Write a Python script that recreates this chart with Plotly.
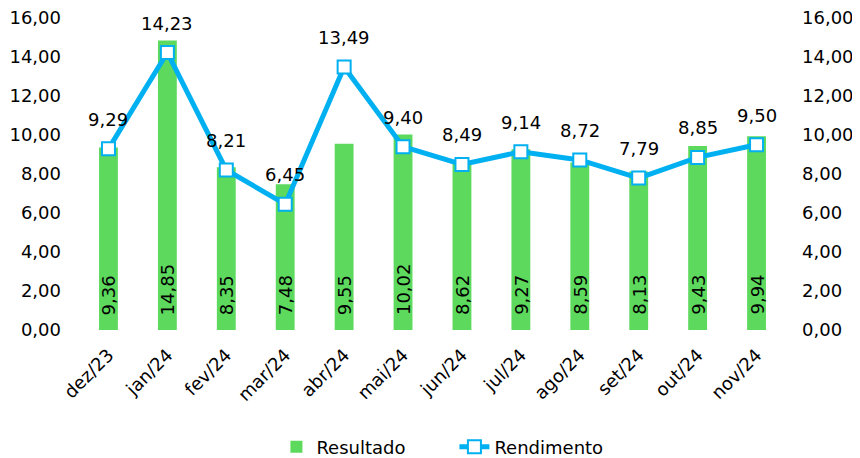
import plotly.graph_objects as go

categories = ["dez/23", "jan/24", "fev/24", "mar/24", "abr/24", "mai/24",
              "jun/24", "jul/24", "ago/24", "set/24", "out/24", "nov/24"]
resultado = [9.36, 14.85, 8.35, 7.48, 9.55, 10.02, 8.62, 9.27, 8.59, 8.13, 9.43, 9.94]
rendimento = [9.29, 14.23, 8.21, 6.45, 13.49, 9.40, 8.49, 9.14, 8.72, 7.79, 8.85, 9.50]
y_ticks = [0, 2, 4, 6, 8, 10, 12, 14, 16]

def br(v):
    return f"{v:.2f}".replace(".", ",")

FONT = "DejaVu Sans, Liberation Sans, Arial, sans-serif"
FS = 18
GREEN = "#5DD95D"
BLUE = "#00B0F0"

fig = go.Figure()
fig.add_trace(go.Bar(
    x=categories, y=resultado, name="Resultado",
    marker=dict(color=GREEN, line=dict(width=0)),
    width=0.32, yaxis="y",
))
fig.add_trace(go.Scatter(
    x=categories, y=rendimento, name="Rendimento", yaxis="y2",
    mode="lines+markers",
    line=dict(color=BLUE, width=5),
    marker=dict(symbol="square", size=13, color="white", line=dict(color=BLUE, width=2)),
))

annotations = []
for c, v in zip(categories, resultado):
    annotations.append(dict(x=c, y=0, xref="x", yref="y", text=br(v), textangle=-90,
                            showarrow=False, yanchor="bottom", xanchor="center", yshift=13,
                            font=dict(family=FONT, size=FS, color="#000")))
for c, v in zip(categories, rendimento):
    annotations.append(dict(x=c, y=v, xref="x", yref="y2", text=br(v),
                            showarrow=False, yanchor="bottom", xanchor="center", yshift=17,
                            font=dict(family=FONT, size=FS, color="#000")))

tick_text = [br(t) for t in y_ticks]
fig.update_layout(
    width=860, height=458,
    margin=dict(l=71, r=82, t=10, b=136, autoexpand=False),
    paper_bgcolor="white", plot_bgcolor="white",
    font=dict(family=FONT, size=FS, color="#000"),
    bargap=0.68,
    xaxis=dict(range=[-0.5, len(categories) - 0.5], tickangle=-45, showgrid=False,
               showline=False, ticks="", automargin=False, ticklabelstandoff=10,
               tickfont=dict(size=FS)),
    yaxis=dict(range=[0, 16], tickvals=y_ticks, ticktext=tick_text, showgrid=False,
               zeroline=False, showline=False, ticks="", automargin=False,
               ticklabelstandoff=17, ticklabeloverflow="allow", tickfont=dict(size=FS)),
    yaxis2=dict(range=[0, 16], tickvals=y_ticks, ticktext=tick_text, showgrid=False,
                zeroline=False, showline=False, ticks="", overlaying="y", side="right",
                automargin=False, ticklabelstandoff=15, ticklabeloverflow="allow",
                tickfont=dict(size=FS)),
    legend=dict(orientation="h", x=0.531, xanchor="center", y=-0.375, yanchor="middle",
                xref="paper", font=dict(size=FS), entrywidth=133),
    annotations=annotations,
    showlegend=True,
)
fig.write_html("out.html")
